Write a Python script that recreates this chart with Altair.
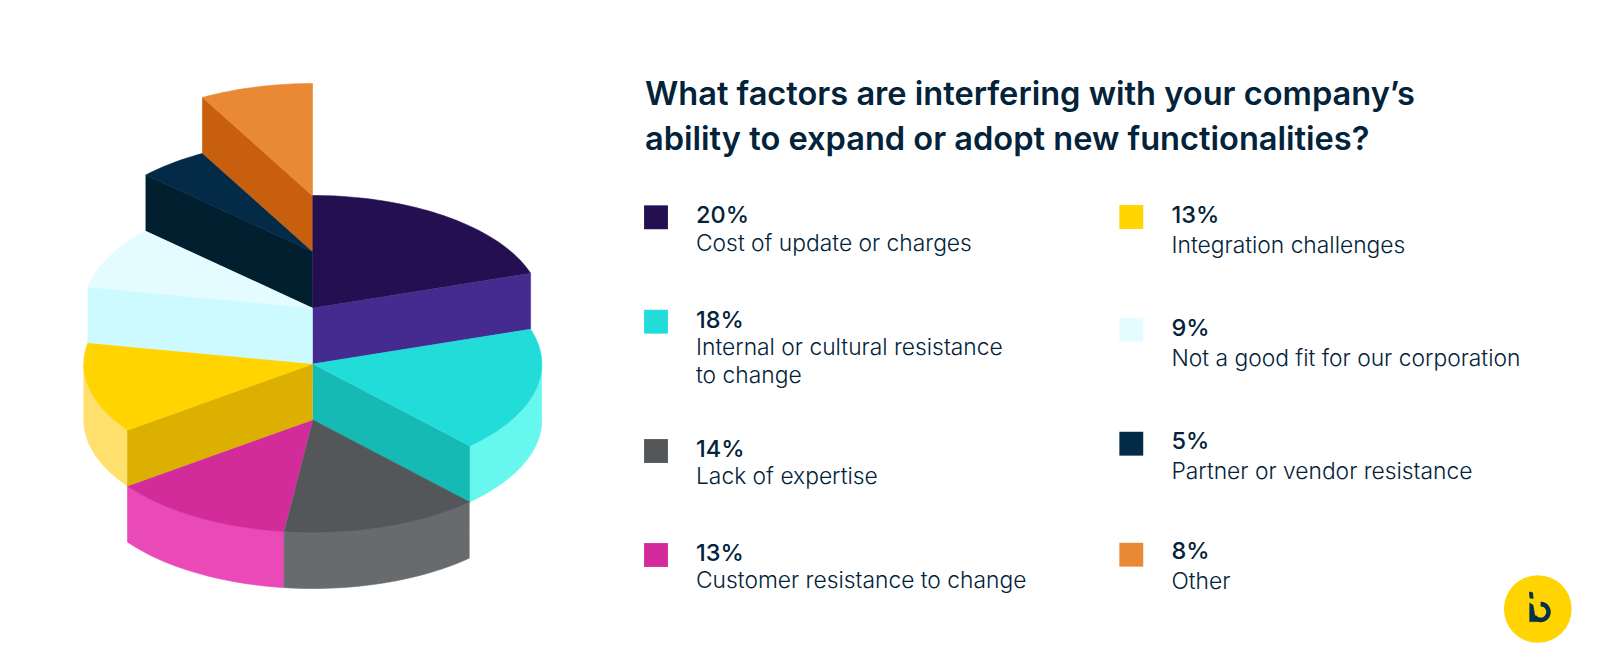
import math
import altair as alt
import pandas as pd

# ---- data ----
PCT = [20, 18, 14, 13, 13, 9, 5, 8]
LABELS = ["Cost of update or charges", "Internal or cultural resistance|to change", "Lack of expertise",
          "Customer resistance to change", "Integration challenges", "Not a good fit for our corporation",
          "Partner or vendor resistance", "Other"]
TOP = ["#240f50", "#22dcd9", "#53575a", "#d12c99", "#ffd400", "#e4fbff", "#032b48", "#e98835"]
RIM = ["#452b90", "#66f8ef", "#686b6e", "#e94ab7", "#ffe06c", "#ccfaff", "#011f2e", "#c75f0e"]
FACE = ["#452b90", "#14bab3", "#53575a", "#d12c99", "#dcb000", "#ccfaff", "#011f2e", "#c75f0e"]
LEVEL = [1, 2, 3, 3, 2, 1, 0, -1]          # how many steps down each slice sits
TITLE = ["What factors are interfering with your company’s",
         "ability to expand or adopt new functionalities?"]

# ---- layout ----
CX, APEX0, RX, RY, DEPTH = 312.8, 252.0, 229.0, 112.5, 56.0
FONT = "Inter"
INK = "#03233a"

def pt(t, apex):
    r = math.radians(t)
    return (CX + RX * math.sin(r), apex - RY * math.cos(r))

def arc(t0, t1, apex):
    n = max(2, int(abs(t1 - t0) / 1.5))
    return [pt(t0 + (t1 - t0) * i / n, apex) for i in range(n + 1)]

rows = []
def add(points, color, table):
    pid = (max(r["pid"] for r in table) + 1) if table else 0
    for k, (x, y) in enumerate(points):
        table.append(dict(x=x, y=y, pid=pid, k=k, col=color))

starts = []
a = 0.0
for p in PCT:
    starts.append((a, a + p * 3.6))
    a += p * 3.6

for i in [7, 6, 5, 0, 4, 1, 3, 2]:
    t0, t1 = starts[i]
    apex = APEX0 + DEPTH * LEVEL[i]
    low = apex + DEPTH
    # outer wall, only its front half shows
    r0, r1 = max(t0, 90), min(t1, 270)
    if r1 > r0:
        add(arc(r0, r1, apex) + arc(r1, r0, low), RIM[i], rows)
    # cut wall of the slice that faces the viewer
    wall = {0: t1, 1: t1, 4: t0, 5: t0, 6: t0, 7: t0}.get(i)
    if wall is not None:
        e = pt(wall, apex)
        add([(CX, apex), e, (e[0], e[1] + DEPTH), (CX, low)], FACE[i], rows)
    add([(CX, apex)] + arc(t0, t1, apex), TOP[i], rows)

df = pd.DataFrame(rows)

X = alt.X("x:Q", scale=alt.Scale(domain=[8, 1592]), axis=None)
Y = alt.Y("y:Q", scale=alt.Scale(domain=[662, 8]), axis=None)

def polygons(frame):
    return alt.Chart(frame).mark_line(strokeWidth=0.6, interpolate="linear").encode(
        x=X, y=Y, order="k:Q", detail="pid:N",
        fill=alt.Fill("col:N", scale=None), stroke=alt.Stroke("col:N", scale=None))

pie = polygons(df)

# legend
SQX = [656] * 4 + [1131.3] * 4
SQY = [217.3, 321.7, 451, 555, 217, 329.7, 443.7, 554.7]
TXX = [696] * 4 + [1171.5] * 4
PY = [222.7, 327.7, 456.7, 560.7, 222.7, 335.7, 449, 559]
DY = [250.7, 355, 484.3, 588.3, 253.3, 365.7, 479, 589]

sq = alt.Chart(pd.DataFrame(dict(x=SQX, y=SQY, col=TOP))).mark_square(size=570, opacity=1).encode(
    x=X, y=Y, fill=alt.Fill("col:N", scale=None), stroke=alt.value(None))

pc = alt.Chart(pd.DataFrame(dict(x=TXX, y=PY, t=[f"{p}%" for p in PCT]))).mark_text(
    align="left", baseline="alphabetic", font=FONT, fontSize=23.5, fontWeight=500, color=INK
).encode(x=X, y=Y, text="t:N")

drows = []
for x, y, lab in zip(TXX, DY, LABELS):
    for j, part in enumerate(lab.split("|")):
        drows.append(dict(x=x, y=y + j * 27.7, t=part))
ds = alt.Chart(pd.DataFrame(drows)).mark_text(
    align="left", baseline="alphabetic", font=FONT, fontSize=22.8, fontWeight=300, color=INK
).encode(x=X, y=Y, text="t:N")

ti = alt.Chart(pd.DataFrame(dict(x=[645, 645], y=[105, 149.5], t=TITLE))).mark_text(
    align="left", baseline="alphabetic", font=FONT, fontSize=32.6, fontWeight=600, color=INK
).encode(x=X, y=Y, text="t:N")

# logo
LOGO_DARK = "#03304a"
STEM_X = [1529.0, 1532.6, 1533.2, 1529.6]
STEM_Y = [592.0, 592.6, 598.5, 598.0]
FOOT_X = [1529.4, 1533.0, 1534.5, 1537.0, 1529.4]
FOOT_Y = [603.0, 605.0, 614.0, 621.6, 621.6]
logo_rows = []
add(list(zip(STEM_X, STEM_Y)), LOGO_DARK, logo_rows)
add(list(zip(FOOT_X, FOOT_Y)), LOGO_DARK, logo_rows)
glyph = polygons(pd.DataFrame(logo_rows))
logo = alt.Chart(pd.DataFrame(dict(x=[1537.8], y=[609.0]))).mark_circle(size=4583, opacity=1, color="#ffd400").encode(x=X, y=Y)
ring = alt.Chart(pd.DataFrame(dict(x=[1540.6], y=[612.0]))).mark_arc(
    radius=10.2, radius2=5.6, theta=0.0, theta2=4.1, color=LOGO_DARK).encode(x=X, y=Y)

chart = alt.layer(pie, sq, ti, pc, ds, logo, glyph, ring).properties(
    width=1584, height=654, padding=0, autosize=alt.AutoSizeParams(type="none"),
    background="white"
).configure_view(stroke=None)

chart.save("out.html", embed_options={"renderer": "svg", "actions": False})
